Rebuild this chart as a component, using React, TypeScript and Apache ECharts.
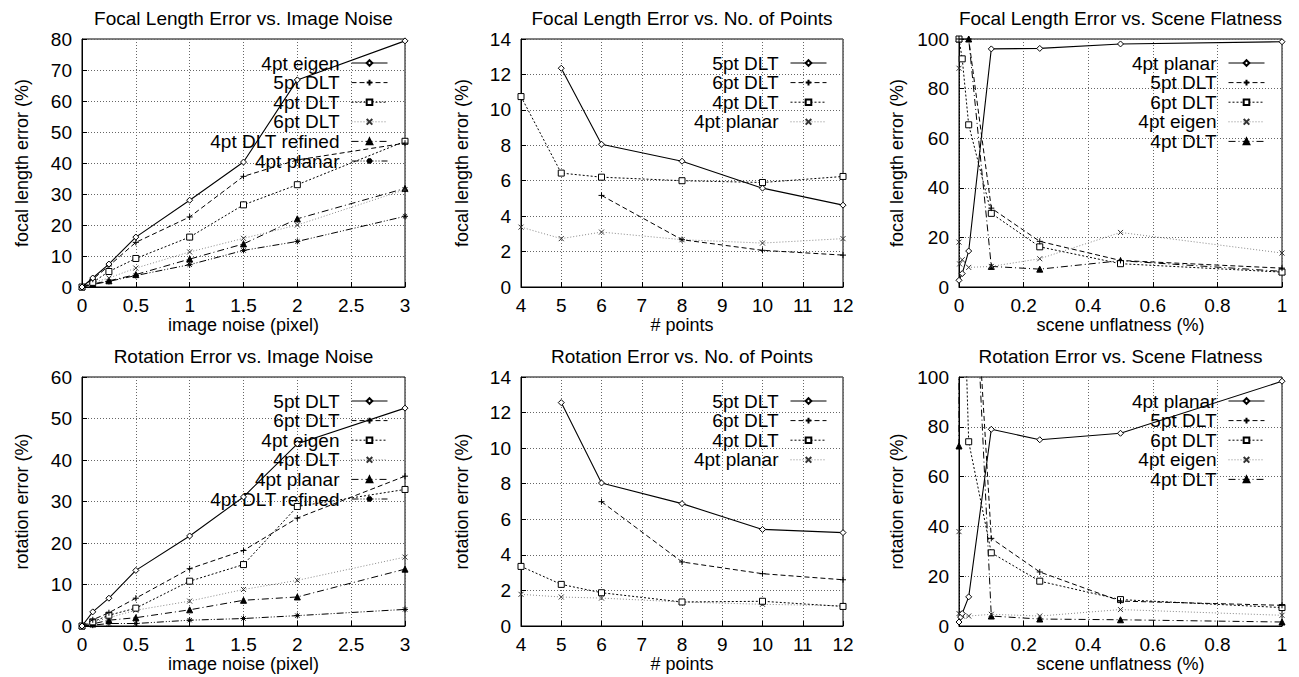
import React, { useEffect, useRef } from 'react';
import * as echarts from 'echarts';

// ---------- data ----------
const noiseLevels = [0, 0.1, 0.25, 0.5, 1, 1.5, 2, 3];
const pointCounts = [4, 5, 6, 8, 10, 12];

// Focal length error vs image noise
const focalNoiseNames = ['4pt eigen', '5pt DLT', '4pt DLT', '6pt DLT', '4pt DLT refined', '4pt planar'];
const focalNoise4ptEigen = [0, 2.9, 7.4, 16.1, 28, 40.3, 66.8, 79.4];
const focalNoise5ptDLT = [0, 2.5, 6.8, 14.4, 22.6, 35.7, 41, 46.4];
const focalNoise4ptDLT = [0, 1.5, 5, 9.2, 16.1, 26.5, 33, 47];
const focalNoise6ptDLT = [0, 1.4, 2.9, 6.1, 11.3, 15.7, 20, 31.4];
const focalNoise4ptDLTRefined = [0, 1, 2, 4, 9, 13.9, 22, 31.8];
const focalNoise4ptPlanar = [0, 0.8, 1.8, 3.7, 7.2, 11.8, 14.7, 22.8];

// Focal length error vs number of points
const focalPointsNames = ['5pt DLT', '6pt DLT', '4pt DLT', '4pt planar'];
const focalPoints5ptDLT = [null, 12.35, 8.06, 7.1, 5.58, 4.62];
const focalPoints6ptDLT = [null, null, 5.17, 2.67, 2.07, 1.8];
const focalPoints4ptDLT = [10.75, 6.43, 6.2, 6.0, 5.9, 6.24];
const focalPoints4ptPlanar = [3.38, 2.73, 3.1, 2.67, 2.48, 2.73];

// Focal length error vs scene flatness  ([unflatness, error])
const focalFlatNames = ['4pt planar', '5pt DLT', '6pt DLT', '4pt eigen', '4pt DLT'];
const focalFlat4ptPlanar = [[0, 2.7], [0.01, 5.4], [0.03, 14.5], [0.1, 96], [0.25, 96.2], [0.5, 98], [1, 98.9]];
const focalFlat5ptDLT = [[0, 100], [0.03, 100], [0.1, 31.8], [0.25, 18.4], [0.5, 10.7], [1, 7.6]];
const focalFlat6ptDLT = [[0, 100], [0.01, 92], [0.03, 65.4], [0.1, 29.7], [0.25, 16.2], [0.5, 9.4], [1, 6]];
const focalFlat4ptEigen = [[0, 88.2], [0, 18.1], [0.002, 9.3], [0.01, 11], [0.03, 7.9], [0.1, 8.3], [0.25, 11.4], [0.5, 22], [1, 13.7]];
const focalFlat4ptDLT = [[0, 100], [0.03, 100], [0.1, 8.3], [0.25, 7.2], [0.5, 10.6], [1, 6.3]];

// Rotation error vs image noise
const rotNoiseNames = ['5pt DLT', '6pt DLT', '4pt eigen', '4pt DLT', '4pt planar', '4pt DLT refined'];
const rotNoise5ptDLT = [0, 3.4, 6.7, 13.4, 21.7, 31.1, 43.9, 52.5];
const rotNoise6ptDLT = [0, 1.5, 3.2, 6.7, 13.8, 18.2, 26, 36.1];
const rotNoise4ptEigen = [0, 1, 2.6, 4.3, 10.8, 14.8, 28.8, 32.9];
const rotNoise4ptDLT = [0, 0.9, 2, 3.8, 6, 8.8, 11, 16.6];
const rotNoise4ptPlanar = [0, 0.5, 1.4, 2, 3.9, 6.2, 7, 13.7];
const rotNoise4ptDLTRefined = [0, 0.2, 0.6, 0.6, 1.4, 1.8, 2.5, 4];

// Rotation error vs number of points
const rotPointsNames = ['5pt DLT', '6pt DLT', '4pt DLT', '4pt planar'];
const rotPoints5ptDLT = [null, 12.56, 8.04, 6.88, 5.43, 5.25];
const rotPoints6ptDLT = [null, null, 6.99, 3.6, 2.94, 2.6];
const rotPoints4ptDLT = [3.35, 2.34, 1.87, 1.35, 1.39, 1.1];
const rotPoints4ptPlanar = [1.78, 1.63, 1.57, 1.35, 1.22, 1.14];

// Rotation error vs scene flatness ([unflatness, error])
const rotFlatNames = ['4pt planar', '5pt DLT', '6pt DLT', '4pt eigen', '4pt DLT'];
const rotFlat4ptPlanar = [[0, 1.6], [0.005, 3.6], [0.01, 5], [0.03, 11.7], [0.1, 79], [0.25, 74.8], [0.5, 77.4], [1, 98.3]];
const rotFlat5ptDLT = [[0.03, 187], [0.1, 35.2], [0.25, 21.7], [0.5, 10], [1, 8.3]];
const rotFlat6ptDLT = [[0.01, 160], [0.03, 74], [0.1, 29.4], [0.25, 18], [0.5, 10.6], [1, 7.4]];
const rotFlat4ptEigen = [[0, 37.9], [0, 5], [0.005, 4.5], [0.01, 4], [0.03, 4], [0.1, 4.7], [0.25, 4], [0.5, 6.6], [1, 4.3]];
const rotFlat4ptDLT = [[0, 72.3], [0.001, 400], [0.03, 195], [0.1, 4], [0.25, 2.8], [0.5, 2.5], [1, 1.6]];

// ---------- styling ----------
const FONT = '"Liberation Sans", Arial, Helvetica, sans-serif';
const PLUS = 'path://M5,0L5,10M0,5L10,5';
const CROSS = 'path://M0,0L10,10M10,0L0,10';
const STAR = 'path://M5,0L5,10M0,5L10,5M1.5,1.5L8.5,8.5M8.5,1.5L1.5,8.5';

const STYLES: any[] = [
  { dash: 'solid', symbol: 'diamond', size: 6, fill: '#fff', stroke: '#000', line: '#000', width: 1.1 },
  { dash: [5, 3], symbol: PLUS, size: 6, fill: 'transparent', stroke: '#000', line: '#000', width: 1 },
  { dash: [2, 2], symbol: 'rect', size: 6, fill: '#fff', stroke: '#000', line: '#000', width: 1 },
  { dash: [1, 2], symbol: CROSS, size: 5, fill: 'transparent', stroke: '#333', line: '#888', width: 1 },
  { dash: [7, 3, 1, 3], symbol: 'triangle', size: 6, fill: '#000', stroke: '#000', line: '#000', width: 1 },
  { dash: [7, 2, 1, 2, 1, 2], symbol: STAR, size: 6, fill: 'transparent', stroke: '#000', line: '#000', width: 1 },
];

const pairs = (xs: number[], ys: (number | null)[]) =>
  xs.map((x, i) => [x, ys[i]]).filter((p) => p[1] !== null);

const panels = [
  {
    title: 'Focal Length Error vs. Image Noise', xName: 'image noise (pixel)', yName: 'focal length error (%)',
    xMin: 0, xMax: 3, xInt: 0.5, yMax: 80, yInt: 10,
    left: 82, top: 39, width: 323, height: 248, legendRight: 911, yNameGap: 51,
    names: focalNoiseNames,
    data: [focalNoise4ptEigen, focalNoise5ptDLT, focalNoise4ptDLT, focalNoise6ptDLT, focalNoise4ptDLTRefined, focalNoise4ptPlanar].map((ys) => pairs(noiseLevels, ys)),
  },
  {
    title: 'Focal Length Error vs. No. of Points', xName: '# points', yName: 'focal length error (%)',
    xMin: 4, xMax: 12, xInt: 1, yMax: 14, yInt: 2,
    left: 521, top: 39, width: 322, height: 248, legendRight: 472, yNameGap: 50,
    names: focalPointsNames,
    data: [focalPoints5ptDLT, focalPoints6ptDLT, focalPoints4ptDLT, focalPoints4ptPlanar].map((ys) => pairs(pointCounts, ys)),
  },
  {
    title: 'Focal Length Error vs. Scene Flatness', xName: 'scene unflatness (%)', yName: 'focal length error (%)',
    xMin: 0, xMax: 1, xInt: 0.2, yMax: 100, yInt: 20,
    left: 959, top: 39, width: 323, height: 248, legendRight: 34, yNameGap: 53,
    names: focalFlatNames,
    data: [focalFlat4ptPlanar, focalFlat5ptDLT, focalFlat6ptDLT, focalFlat4ptEigen, focalFlat4ptDLT],
  },
  {
    title: 'Rotation Error vs. Image Noise', xName: 'image noise (pixel)', yName: 'rotation error (%)',
    xMin: 0, xMax: 3, xInt: 0.5, yMax: 60, yInt: 10,
    left: 82, top: 377, width: 323, height: 249, legendRight: 911, yNameGap: 51,
    names: rotNoiseNames,
    data: [rotNoise5ptDLT, rotNoise6ptDLT, rotNoise4ptEigen, rotNoise4ptDLT, rotNoise4ptPlanar, rotNoise4ptDLTRefined].map((ys) => pairs(noiseLevels, ys)),
  },
  {
    title: 'Rotation Error vs. No. of Points', xName: '# points', yName: 'rotation error (%)',
    xMin: 4, xMax: 12, xInt: 1, yMax: 14, yInt: 2,
    left: 521, top: 377, width: 322, height: 249, legendRight: 472, yNameGap: 50,
    names: rotPointsNames,
    data: [rotPoints5ptDLT, rotPoints6ptDLT, rotPoints4ptDLT, rotPoints4ptPlanar].map((ys) => pairs(pointCounts, ys)),
  },
  {
    title: 'Rotation Error vs. Scene Flatness', xName: 'scene unflatness (%)', yName: 'rotation error (%)',
    xMin: 0, xMax: 1, xInt: 0.2, yMax: 100, yInt: 20,
    left: 959, top: 377, width: 323, height: 249, legendRight: 34, yNameGap: 53,
    names: rotFlatNames,
    data: [rotFlat4ptPlanar, rotFlat5ptDLT, rotFlat6ptDLT, rotFlat4ptEigen, rotFlat4ptDLT],
  },
];

function buildOption() {
  const grid: any[] = [];
  const xAxis: any[] = [];
  const yAxis: any[] = [];
  const title: any[] = [];
  const legend: any[] = [];
  const series: any[] = [];
  panels.forEach((p, i) => {
    grid.push({ left: p.left, top: p.top, width: p.width, height: p.height, show: true, borderColor: '#000', borderWidth: 1, backgroundColor: 'transparent' });
    const axisCommon = {
      gridIndex: i,
      type: 'value',
      nameLocation: 'middle',
      nameTextStyle: { fontSize: 18, color: '#000', fontFamily: FONT },
      axisLine: { show: true, onZero: false, lineStyle: { color: '#000', width: 1 } },
      axisTick: { show: true, inside: true, length: 5, lineStyle: { color: '#000' } },
      splitLine: { show: true, lineStyle: { color: '#666', width: 1, type: [1, 2] } },
    };
    xAxis.push({
      ...axisCommon, min: p.xMin, max: p.xMax, interval: p.xInt, name: p.xName, nameGap: 28,
      axisLabel: { fontSize: 19, color: '#000', margin: 9, fontFamily: FONT },
    });
    yAxis.push({
      ...axisCommon, min: 0, max: p.yMax, interval: p.yInt, name: p.yName, nameGap: p.yNameGap,
      axisLabel: { fontSize: 19, color: '#000', margin: 10, fontFamily: FONT },
    });
    title.push({
      text: p.title, left: p.left + p.width / 2, top: p.top - 30, textAlign: 'center', padding: 0,
      textStyle: { fontSize: 19, fontWeight: 'normal', color: '#000', fontFamily: FONT },
    });
    const seriesNames = p.names.map((n) => `${i}|${n}`);
    legend.push({
      orient: 'vertical', align: 'right', right: p.legendRight, top: p.top + 14.2, padding: 0, itemGap: 0,
      itemWidth: 36, itemHeight: 7, selectedMode: false, data: seriesNames,
      lineStyle: { width: 1 },
      formatter: (name: string) => name.split('|')[1],
      textStyle: { fontSize: 19, color: '#000', fontFamily: FONT, lineHeight: 19.6, padding: [0, 7, 0, 0] },
    });
    p.names.forEach((n, k) => {
      const s = STYLES[k];
      series.push({
        type: 'line', name: seriesNames[k], xAxisIndex: i, yAxisIndex: i, data: p.data[k],
        symbol: s.symbol, symbolSize: s.size, showSymbol: true, clip: true,
        lineStyle: { color: s.line, width: s.width, type: s.dash },
        itemStyle: { color: s.fill, borderColor: s.stroke, borderWidth: 1 },
        emphasis: { disabled: true },
        z: 10 - k,
      });
    });
  });
  return { animation: false, backgroundColor: '#fff', grid, xAxis, yAxis, title, legend, series };
}

export default function App() {
  const ref = useRef<HTMLDivElement>(null);
  useEffect(() => {
    if (!ref.current) return;
    const chart = echarts.init(ref.current, undefined, { renderer: 'svg' });
    chart.setOption(buildOption() as any);
    return () => chart.dispose();
  }, []);
  return (
    <div
      ref={ref}
      style={{ position: 'fixed', left: 0, top: 0, width: 1299, height: 677, background: '#fff' }}
    />
  );
}
